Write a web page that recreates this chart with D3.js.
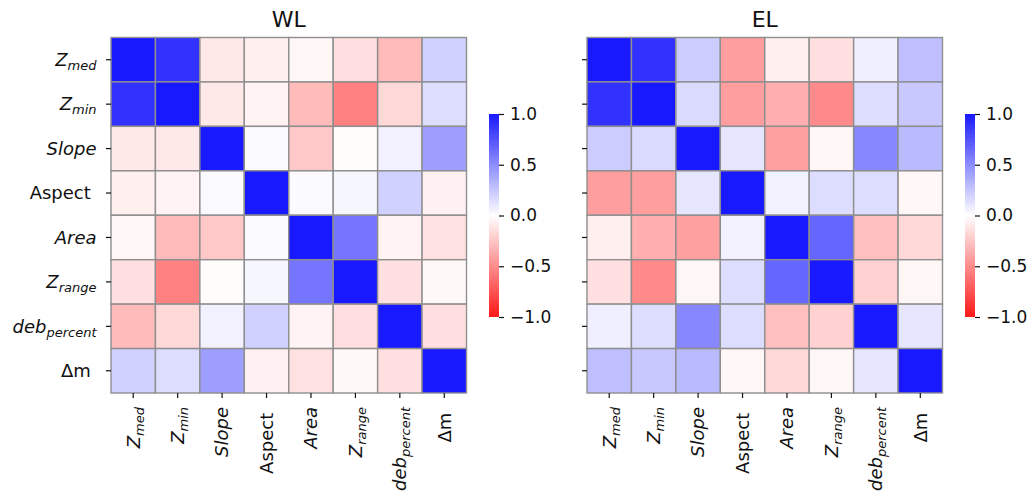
<!DOCTYPE html>
<html><head><meta charset="utf-8">
<script src="https://cdn.jsdelivr.net/npm/d3@7"></script>
<style>
body{margin:0;background:#fff;}
text{font-family:"DejaVu Sans",sans-serif;fill:#111;white-space:pre;}
</style></head>
<body><svg id="c" width="1035" height="495"></svg>
<script>
// Variable labels
const labelBase = ["Z", "Z", "Slope", "Aspect ", "Area", "Z", "deb", "Δm "];
const labelSub = ["med", "min", "", "", "", "range", "percent", ""];
const labelItalic = [true, true, true, false, true, true, true, false];

const titles = ["WL", "EL"];
const cbarTicks = [1.0, 0.5, 0.0, -0.5, -1.0];

// Correlation matrices (rows/cols in label order)
const wlValues = [
  [1.00, 0.89, -0.10, -0.07, -0.04, -0.14, -0.30, 0.20],
  [0.89, 1.00, -0.10, -0.05, -0.30, -0.55, -0.17, 0.15],
  [-0.10, -0.10, 1.00, 0.02, -0.24, -0.01, 0.06, 0.42],
  [-0.07, -0.05, 0.02, 1.00, 0.02, 0.04, 0.20, -0.06],
  [-0.04, -0.30, -0.24, 0.02, 1.00, 0.60, -0.05, -0.13],
  [-0.14, -0.55, -0.01, 0.04, 0.60, 1.00, -0.14, -0.03],
  [-0.30, -0.17, 0.06, 0.20, -0.05, -0.14, 1.00, -0.14],
  [0.20, 0.15, 0.42, -0.06, -0.13, -0.03, -0.14, 1.00]
];
const elValues = [
  [1.00, 0.89, 0.22, -0.42, -0.07, -0.14, 0.07, 0.28],
  [0.89, 1.00, 0.16, -0.42, -0.35, -0.51, 0.15, 0.24],
  [0.22, 0.16, 1.00, 0.11, -0.41, -0.04, 0.52, 0.30],
  [-0.42, -0.42, 0.11, 1.00, 0.06, 0.15, 0.15, -0.04],
  [-0.07, -0.35, -0.41, 0.06, 1.00, 0.67, -0.28, -0.17],
  [-0.14, -0.51, -0.04, 0.15, 0.67, 1.00, -0.20, -0.04],
  [0.07, 0.15, 0.52, 0.15, -0.28, -0.20, 1.00, 0.11],
  [0.28, 0.24, 0.30, -0.04, -0.17, -0.04, 0.11, 1.00]
];

const svg = d3.select("#c");
const color = d3.scaleLinear().domain([-1, 0, 1]).range(["#ff0000", "#ffffff", "#0000ff"]);
const n = labelBase.length;
const idx = d3.range(n);

function addLabel(sel, i) {
  const t = sel.append("tspan").text(labelBase[i]);
  if (labelItalic[i]) t.attr("font-style", "italic");
  if (labelSub[i]) {
    sel.append("tspan").text(labelSub[i]).attr("font-style", "italic")
      .attr("font-size", "13px").attr("dy", "4");
  }
}

const panels = [
  {x0: 111, values: wlValues, title: titles[0], showY: true, cbx: 489},
  {x0: 587, values: elValues, title: titles[1], showY: false, cbx: 965}
];
const y0 = 37.5, size = 355.5;

const defs = svg.append("defs");
const grad = defs.append("linearGradient").attr("id", "cb").attr("x1", 0).attr("x2", 0).attr("y1", 1).attr("y2", 0);
d3.range(0, 1.0001, 0.05).forEach(t => {
  grad.append("stop").attr("offset", t).attr("stop-color", color(-1 + 2 * t));
});

panels.forEach(p => {
  const x = d3.scaleBand().domain(idx).range([p.x0, p.x0 + size]);
  const y = d3.scaleBand().domain(idx).range([y0, y0 + size]);
  const g = svg.append("g");
  const cells = [];
  p.values.forEach((row, r) => row.forEach((v, c) => cells.push({r, c, v})));
  g.selectAll("rect.cell").data(cells).join("rect")
    .attr("x", d => x(d.c)).attr("y", d => y(d.r))
    .attr("width", x.bandwidth()).attr("height", y.bandwidth())
    .attr("fill", d => color(d.v)).attr("fill-opacity", 0.9)
    .attr("stroke", "#8f8f8f").attr("stroke-width", 1.4);

  // title
  svg.append("text").attr("x", p.x0 + size / 2).attr("y", 27)
    .attr("text-anchor", "middle").attr("font-size", "22px").text(p.title);

  // y axis
  const ya = svg.append("g").attr("transform", `translate(${p.x0},0)`)
    .call(d3.axisLeft(y).tickSize(5).tickFormat(""));
  ya.select(".domain").remove();
  ya.selectAll("line").attr("stroke", "#111").attr("stroke-width", 1.2);
  if (p.showY) {
    idx.forEach(i => {
      const t = svg.append("text").attr("x", 96.5).attr("y", y(i) + y.bandwidth() / 2)
        .attr("dy", "0.35em").attr("text-anchor", "end").attr("font-size", "18px");
      addLabel(t, i);
    });
  }
  // x axis
  const xa = svg.append("g").attr("transform", `translate(0,${y0 + size})`)
    .call(d3.axisBottom(x).tickSize(5).tickFormat(""));
  xa.select(".domain").remove();
  xa.selectAll("line").attr("stroke", "#111").attr("stroke-width", 1.2);
  idx.forEach(i => {
    const cx = x(i) + x.bandwidth() / 2;
    const t = svg.append("text")
      .attr("transform", `translate(${cx},${y0 + size + 14}) rotate(-90)`)
      .attr("dy", "0.35em").attr("text-anchor", "end").attr("font-size", "18px");
    addLabel(t, i);
  });

  // colorbar
  const cy = d3.scaleLinear().domain([-1, 1]).range([317, 114]);
  svg.append("rect").attr("x", p.cbx).attr("y", 114).attr("width", 10).attr("height", 203)
    .attr("fill", "url(#cb)").attr("fill-opacity", 0.9);
  const ca = svg.append("g").attr("transform", `translate(${p.cbx + 10},0)`)
    .call(d3.axisRight(cy).tickValues(cbarTicks).tickSize(5).tickPadding(6)
      .tickFormat(d => d3.format(".1f")(d).replace("-", "−")));
  ca.select(".domain").remove();
  ca.selectAll("line").attr("stroke", "#111").attr("stroke-width", 1.2);
  ca.selectAll("text").attr("font-size", "17px").attr("font-family", "DejaVu Sans").attr("fill", "#111");
});
</script></body></html>
